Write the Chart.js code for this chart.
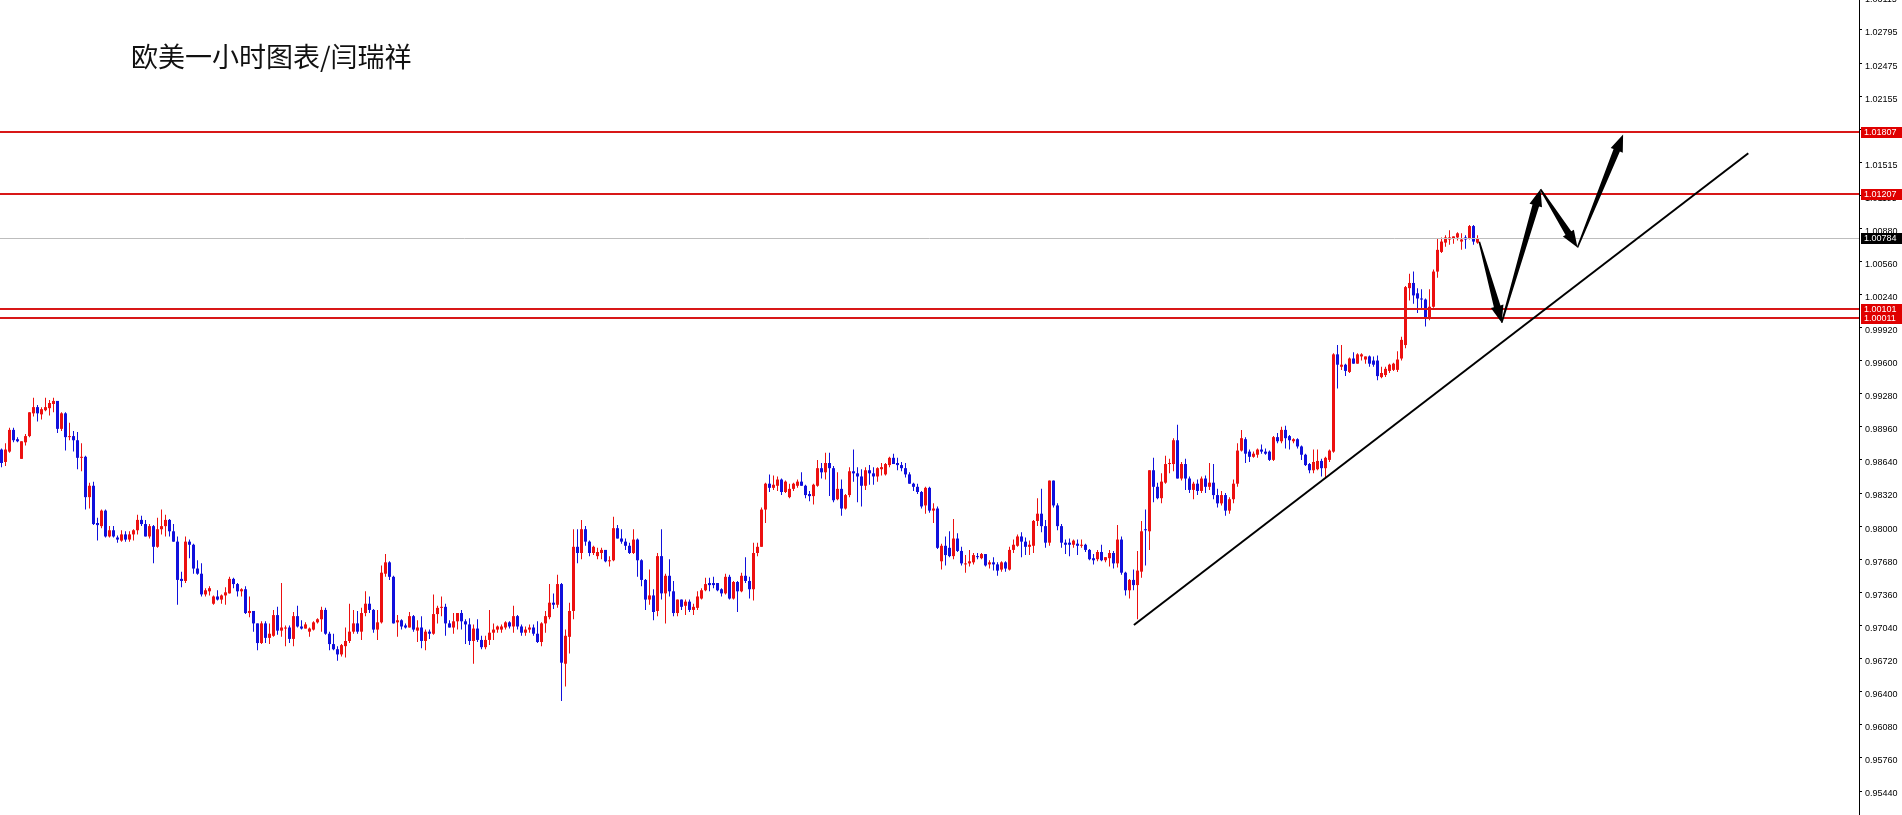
<!DOCTYPE html>
<html>
<head>
<meta charset="utf-8">
<script src="https://cdn.jsdelivr.net/npm/chart.js@4.4.0/dist/chart.umd.min.js"></script>
<style>
  html, body { margin: 0; padding: 0; background: #fff; overflow: hidden; }
  #wrap { width: 1902px; height: 815px; position: relative; }
</style>
</head>
<body>
<div id="wrap"><canvas id="myChart"></canvas></div>
<script>
const chartTitle = "欧美一小时图表/闫瑞祥";

const opens = [
  0.9874,0.9862,0.9872,0.9893,0.9884,0.9865,0.9881,0.9887,0.9909,0.9915,
  0.9908,0.9912,0.9914,0.9918,0.9921,0.9894,0.9909,0.9886,0.9887,0.9883,
  0.9866,0.9867,0.9828,0.9839,0.9803,0.9800,0.9815,0.9790,0.9796,0.9789,
  0.9786,0.9792,0.9787,0.9792,0.9796,0.9806,0.9802,0.9790,0.9800,0.9780,
  0.9797,0.9800,0.9806,0.9795,0.9785,0.9749,0.9747,0.9785,0.9782,0.9759,
  0.9754,0.9734,0.9737,0.9725,0.9732,0.9729,0.9733,0.9735,0.9749,0.9744,
  0.9737,0.9739,0.9716,0.9718,0.9706,0.9687,0.9706,0.9692,0.9694,0.9714,
  0.9699,0.9701,0.9702,0.9691,0.9713,0.9703,0.9701,0.9698,0.9700,0.9707,
  0.9710,0.9719,0.9696,0.9686,0.9681,0.9676,0.9684,0.9689,0.9698,0.9706,
  0.9698,0.9716,0.9725,0.9719,0.9700,0.9707,0.9754,0.9765,0.9751,0.9707,
  0.9709,0.9704,0.9702,0.9713,0.9699,0.9702,0.9689,0.9698,0.9696,0.9715,
  0.9721,0.9722,0.9706,0.9702,0.9708,0.9716,0.9708,0.9705,0.9689,0.9701,
  0.9690,0.9683,0.9690,0.9697,0.9700,0.9700,0.9702,0.9707,0.9703,0.9713,
  0.9703,0.9697,0.9700,0.9702,0.9696,0.9688,0.9706,0.9712,0.9726,0.9724,
  0.9744,0.9667,0.9693,0.9718,0.9780,0.9774,0.9797,0.9785,0.9774,0.9771,
  0.9774,0.9777,0.9766,0.9767,0.9798,0.9788,0.9785,0.9781,0.9774,0.9787,
  0.9767,0.9748,0.9729,0.9733,0.9718,0.9771,0.9735,0.9752,0.9737,0.9716,
  0.9729,0.9723,0.9727,0.9719,0.9721,0.9730,0.9738,0.9745,0.9745,0.9745,
  0.9739,0.9735,0.9751,0.9730,0.9746,0.9737,0.9752,0.9747,0.9739,0.9774,
  0.9780,0.9816,0.9841,0.9837,0.9839,0.9845,0.9833,0.9828,0.9836,0.9839,
  0.9843,0.9839,0.9831,0.9829,0.9839,0.9856,0.9852,0.9861,0.9856,0.9826,
  0.9836,0.9817,0.9830,0.9853,0.9851,0.9848,0.9839,0.9854,0.9851,0.9848,
  0.9855,0.9850,0.9859,0.9866,0.9861,0.9859,0.9856,0.9850,0.9841,0.9838,
  0.9833,0.9820,0.9837,0.9815,0.9817,0.9766,0.9781,0.9779,0.9771,0.9788,
  0.9776,0.9763,0.9764,0.9765,0.9771,0.9769,0.9773,0.9763,0.9765,0.9763,
  0.9758,0.9765,0.9758,0.9777,0.9781,0.9790,0.9785,0.9780,0.9781,0.9805,
  0.9812,0.9800,0.9784,0.9844,0.9820,0.9800,0.9784,0.9784,0.9782,0.9783,
  0.9781,0.9782,0.9777,0.9769,0.9768,0.9775,0.9767,0.9769,0.9774,0.9764,
  0.9787,0.9755,0.9738,0.9748,0.9743,0.9756,0.9797,0.9795,0.9854,0.9838,
  0.9827,0.9842,0.9860,0.9860,0.9883,0.9846,0.9860,0.9846,0.9835,0.9841,
  0.9834,0.9846,0.9838,0.9842,0.9830,0.9822,0.9830,0.9815,0.9826,0.9841,
  0.9873,0.9884,0.9872,0.9867,0.9869,0.9874,0.9872,0.9872,0.9864,0.9886,
  0.9882,0.9893,0.9887,0.9882,0.9884,0.9877,0.9869,0.9860,0.9854,0.9855,
  0.9863,0.9856,0.9864,0.9872,0.9966,0.9954,0.9956,0.9949,0.9962,0.9957,
  0.9964,0.9961,0.9964,0.9960,0.9960,0.9944,0.9946,0.9950,0.9951,0.9951,
  0.9962,0.9975,1.0030,1.0035,1.0025,1.0020,1.0019,1.0001,1.0012,1.0046,
  1.0065,1.0074,1.0077,1.0078,1.0079,1.0075,1.0079,1.0078,1.0090,1.0074
];

const highs = [
  0.9875,0.9880,0.9895,0.9895,0.9886,0.9882,0.9889,0.9910,0.9924,0.9917,
  0.9915,0.9924,0.9922,0.9924,0.9921,0.9910,0.9910,0.9900,0.9892,0.9891,
  0.9880,0.9868,0.9842,0.9843,0.9808,0.9816,0.9816,0.9800,0.9800,0.9791,
  0.9796,0.9795,0.9795,0.9797,0.9811,0.9810,0.9806,0.9802,0.9801,0.9808,
  0.9816,0.9811,0.9807,0.9802,0.9790,0.9756,0.9790,0.9787,0.9783,0.9767,
  0.9764,0.9740,0.9742,0.9733,0.9738,0.9734,0.9741,0.9751,0.9750,0.9745,
  0.9740,0.9742,0.9732,0.9718,0.9706,0.9708,0.9708,0.9706,0.9719,0.9722,
  0.9745,0.9704,0.9704,0.9717,0.9723,0.9709,0.9707,0.9702,0.9708,0.9711,
  0.9722,0.9721,0.9698,0.9696,0.9684,0.9686,0.9702,0.9725,0.9719,0.9718,
  0.9721,0.9737,0.9732,0.9720,0.9719,0.9762,0.9773,0.9766,0.9752,0.9714,
  0.9710,0.9706,0.9717,0.9714,0.9709,0.9713,0.9700,0.9700,0.9734,0.9723,
  0.9732,0.9725,0.9709,0.9716,0.9716,0.9719,0.9710,0.9711,0.9705,0.9710,
  0.9694,0.9694,0.9719,0.9706,0.9704,0.9705,0.9708,0.9708,0.9723,0.9714,
  0.9705,0.9703,0.9705,0.9705,0.9708,0.9707,0.9718,0.9744,0.9735,0.9753,
  0.9745,0.9700,0.9726,0.9797,0.9797,0.9806,0.9800,0.9786,0.9781,0.9779,
  0.9779,0.9777,0.9771,0.9809,0.9801,0.9797,0.9788,0.9784,0.9797,0.9788,
  0.9768,0.9749,0.9758,0.9739,0.9774,0.9797,0.9754,0.9768,0.9747,0.9729,
  0.9729,0.9729,0.9729,0.9725,0.9737,0.9740,0.9750,0.9750,0.9751,0.9745,
  0.9740,0.9754,0.9753,0.9747,0.9747,0.9755,0.9770,0.9751,0.9784,0.9784,
  0.9818,0.9842,0.9850,0.9849,0.9848,0.9846,0.9844,0.9841,0.9842,0.9845,
  0.9852,0.9840,0.9834,0.9841,0.9864,0.9861,0.9871,0.9871,0.9858,0.9852,
  0.9845,0.9831,0.9857,0.9874,0.9857,0.9855,0.9857,0.9859,0.9857,0.9857,
  0.9861,0.9861,0.9867,0.9870,0.9866,0.9862,0.9861,0.9852,0.9842,0.9841,
  0.9834,0.9838,0.9838,0.9822,0.9819,0.9783,0.9790,0.9795,0.9807,0.9793,
  0.9780,0.9772,0.9777,0.9774,0.9774,0.9774,0.9773,0.9767,0.9770,0.9765,
  0.9766,0.9766,0.9780,0.9787,0.9792,0.9794,0.9789,0.9786,0.9806,0.9827,
  0.9836,0.9806,0.9844,0.9844,0.9822,0.9802,0.9787,0.9788,0.9787,0.9787,
  0.9787,0.9783,0.9778,0.9773,0.9777,0.9782,0.9770,0.9777,0.9776,0.9801,
  0.9790,0.9756,0.9749,0.9758,0.9776,0.9805,0.9816,0.9854,0.9866,0.9842,
  0.9851,0.9868,0.9865,0.9885,0.9898,0.9862,0.9865,0.9848,0.9843,0.9845,
  0.9848,0.9849,0.9861,0.9860,0.9836,0.9834,0.9832,0.9828,0.9845,0.9880,
  0.9893,0.9886,0.9874,0.9872,0.9875,0.9879,0.9875,0.9873,0.9887,0.9890,
  0.9896,0.9897,0.9888,0.9885,0.9885,0.9878,0.9870,0.9861,0.9874,0.9874,
  0.9865,0.9867,0.9874,0.9967,0.9975,0.9975,0.9957,0.9963,0.9968,0.9967,
  0.9967,0.9964,0.9965,0.9964,0.9965,0.9954,0.9954,0.9957,0.9958,0.9969,
  0.9983,1.0032,1.0044,1.0046,1.0030,1.0029,1.0020,1.0029,1.0048,1.0078,
  1.0079,1.0081,1.0086,1.0080,1.0084,1.0083,1.0081,1.0091,1.0091,1.0081
];

const lows = [
  0.9857,0.9858,0.9871,0.9881,0.9881,0.9865,0.9878,0.9886,0.9906,0.9901,
  0.9903,0.9911,0.9907,0.9910,0.9890,0.9892,0.9873,0.9883,0.9872,0.9855,
  0.9853,0.9816,0.9817,0.9801,0.9786,0.9798,0.9789,0.9789,0.9789,0.9784,
  0.9785,0.9785,0.9785,0.9786,0.9792,0.9800,0.9790,0.9788,0.9764,0.9779,
  0.9792,0.9790,0.9790,0.9785,0.9724,0.9741,0.9745,0.9769,0.9754,0.9753,
  0.9732,0.9732,0.9733,0.9724,0.9728,0.9725,0.9724,0.9735,0.9740,0.9732,
  0.9732,0.9715,0.9712,0.9698,0.9680,0.9686,0.9687,0.9686,0.9693,0.9695,
  0.9693,0.9684,0.9687,0.9684,0.9702,0.9700,0.9701,0.9693,0.9699,0.9706,
  0.9698,0.9695,0.9680,0.9680,0.9670,0.9674,0.9673,0.9687,0.9696,0.9696,
  0.9690,0.9713,0.9716,0.9697,0.9690,0.9706,0.9751,0.9748,0.9706,0.9693,
  0.9700,0.9701,0.9702,0.9698,0.9688,0.9682,0.9680,0.9691,0.9695,0.9706,
  0.9713,0.9694,0.9702,0.9696,0.9700,0.9700,0.9686,0.9685,0.9667,0.9688,
  0.9681,0.9681,0.9685,0.9690,0.9697,0.9697,0.9700,0.9701,0.9697,0.9700,
  0.9694,0.9694,0.9697,0.9694,0.9687,0.9684,0.9697,0.9710,0.9720,0.9721,
  0.9631,0.9645,0.9677,0.9710,0.9764,0.9768,0.9781,0.9771,0.9772,0.9768,
  0.9768,0.9765,0.9761,0.9766,0.9788,0.9783,0.9777,0.9773,0.9773,0.9751,
  0.9742,0.9719,0.9724,0.9709,0.9713,0.9729,0.9706,0.9732,0.9713,0.9713,
  0.9719,0.9714,0.9717,0.9714,0.9719,0.9729,0.9737,0.9737,0.9740,0.9737,
  0.9732,0.9734,0.9729,0.9729,0.9717,0.9736,0.9745,0.9730,0.9728,0.9771,
  0.9780,0.9803,0.9833,0.9835,0.9834,0.9830,0.9832,0.9827,0.9834,0.9837,
  0.9839,0.9827,0.9824,0.9821,0.9838,0.9846,0.9845,0.9829,0.9823,0.9825,
  0.9810,0.9816,0.9828,0.9843,0.9823,0.9819,0.9835,0.9840,0.9840,0.9843,
  0.9849,0.9849,0.9857,0.9860,0.9854,0.9853,0.9847,0.9841,0.9834,0.9831,
  0.9817,0.9812,0.9813,0.9803,0.9778,0.9758,0.9762,0.9770,0.9768,0.9775,
  0.9762,0.9755,0.9761,0.9763,0.9768,0.9768,0.9761,0.9759,0.9757,0.9752,
  0.9756,0.9756,0.9757,0.9774,0.9780,0.9770,0.9772,0.9772,0.9774,0.9800,
  0.9794,0.9779,0.9781,0.9818,0.9796,0.9779,0.9773,0.9771,0.9779,0.9772,
  0.9779,0.9775,0.9767,0.9763,0.9766,0.9766,0.9765,0.9761,0.9759,0.9760,
  0.9753,0.9733,0.9730,0.9738,0.9710,0.9750,0.9762,0.9777,0.9823,0.9826,
  0.9822,0.9841,0.9851,0.9853,0.9846,0.9844,0.9835,0.9832,0.9826,0.9830,
  0.9832,0.9832,0.9835,0.9826,0.9818,0.9820,0.9810,0.9812,0.9822,0.9838,
  0.9872,0.9861,0.9862,0.9866,0.9866,0.9870,0.9869,0.9863,0.9863,0.9880,
  0.9880,0.9875,0.9874,0.9880,0.9875,0.9864,0.9858,0.9851,0.9851,0.9854,
  0.9848,0.9846,0.9862,0.9871,0.9933,0.9951,0.9945,0.9948,0.9957,0.9957,
  0.9960,0.9957,0.9954,0.9954,0.9941,0.9943,0.9944,0.9948,0.9950,0.9949,
  0.9960,0.9972,1.0018,1.0015,1.0006,1.0010,0.9993,0.9999,1.0011,1.0040,
  1.0064,1.0070,1.0072,1.0073,1.0076,1.0067,1.0068,1.0077,1.0072,1.0073
];

const closes = [
  0.9861,0.9874,0.9893,0.9883,0.9882,0.9882,0.9887,0.9910,0.9915,0.9909,
  0.9913,0.9915,0.9919,0.9921,0.9894,0.9909,0.9886,0.9887,0.9883,0.9866,
  0.9867,0.9828,0.9839,0.9802,0.9801,0.9815,0.9790,0.9796,0.9790,0.9787,
  0.9792,0.9787,0.9792,0.9796,0.9806,0.9802,0.9790,0.9800,0.9780,0.9797,
  0.9800,0.9806,0.9795,0.9785,0.9748,0.9747,0.9785,0.9782,0.9759,0.9754,
  0.9734,0.9738,0.9740,0.9732,0.9729,0.9733,0.9736,0.9749,0.9744,0.9737,
  0.9739,0.9716,0.9718,0.9706,0.9687,0.9706,0.9692,0.9696,0.9714,0.9699,
  0.9702,0.9702,0.9691,0.9713,0.9703,0.9701,0.9705,0.9701,0.9707,0.9710,
  0.9719,0.9696,0.9686,0.9681,0.9676,0.9685,0.9689,0.9698,0.9706,0.9698,
  0.9716,0.9725,0.9719,0.9700,0.9707,0.9755,0.9765,0.9751,0.9706,0.9709,
  0.9703,0.9702,0.9713,0.9700,0.9702,0.9689,0.9698,0.9696,0.9715,0.9721,
  0.9722,0.9706,0.9702,0.9708,0.9716,0.9708,0.9705,0.9689,0.9701,0.9690,
  0.9683,0.9690,0.9697,0.9700,0.9703,0.9703,0.9707,0.9703,0.9713,0.9703,
  0.9697,0.9700,0.9702,0.9696,0.9688,0.9706,0.9713,0.9726,0.9724,0.9744,
  0.9668,0.9694,0.9718,0.9780,0.9774,0.9797,0.9785,0.9774,0.9780,0.9775,
  0.9777,0.9766,0.9767,0.9798,0.9788,0.9785,0.9781,0.9774,0.9787,0.9767,
  0.9748,0.9729,0.9733,0.9717,0.9771,0.9735,0.9752,0.9737,0.9716,0.9729,
  0.9722,0.9727,0.9719,0.9722,0.9732,0.9738,0.9744,0.9743,0.9743,0.9738,
  0.9735,0.9751,0.9730,0.9746,0.9737,0.9752,0.9747,0.9739,0.9774,0.9780,
  0.9816,0.9841,0.9837,0.9840,0.9845,0.9833,0.9843,0.9836,0.9841,0.9843,
  0.9839,0.9830,0.9829,0.9840,0.9856,0.9852,0.9861,0.9856,0.9825,0.9836,
  0.9817,0.9830,0.9853,0.9851,0.9848,0.9839,0.9854,0.9851,0.9848,0.9856,
  0.9857,0.9860,0.9866,0.9860,0.9859,0.9856,0.9850,0.9841,0.9838,0.9833,
  0.9819,0.9837,0.9815,0.9817,0.9779,0.9781,0.9772,0.9771,0.9788,0.9776,
  0.9764,0.9764,0.9766,0.9772,0.9770,0.9773,0.9762,0.9765,0.9763,0.9757,
  0.9765,0.9759,0.9777,0.9782,0.9790,0.9785,0.9780,0.9782,0.9805,0.9812,
  0.9800,0.9784,0.9844,0.9820,0.9800,0.9784,0.9782,0.9782,0.9786,0.9781,
  0.9782,0.9777,0.9768,0.9767,0.9775,0.9767,0.9770,0.9774,0.9764,0.9787,
  0.9755,0.9738,0.9748,0.9743,0.9757,0.9795,0.9796,0.9854,0.9838,0.9827,
  0.9843,0.9860,0.9861,0.9883,0.9846,0.9860,0.9846,0.9835,0.9841,0.9834,
  0.9846,0.9838,0.9842,0.9830,0.9822,0.9830,0.9815,0.9826,0.9841,0.9873,
  0.9885,0.9870,0.9867,0.9870,0.9874,0.9872,0.9870,0.9864,0.9886,0.9882,
  0.9893,0.9885,0.9883,0.9884,0.9877,0.9869,0.9859,0.9854,0.9862,0.9863,
  0.9856,0.9866,0.9873,0.9966,0.9956,0.9956,0.9950,0.9962,0.9957,0.9966,
  0.9966,0.9964,0.9957,0.9956,0.9945,0.9948,0.9952,0.9956,0.9957,0.9961,
  0.9980,1.0031,1.0035,1.0023,1.0020,1.0019,1.0001,1.0012,1.0046,1.0067,
  1.0075,1.0079,1.0079,1.0080,1.0083,1.0077,1.0077,1.0090,1.0075,1.0078
];

// price axis tick labels as printed on the chart
const tickValues = [
  1.03115, 1.02795, 1.02475, 1.02155, 1.01835, 1.01515, 1.01195, 1.00880,
  1.00560, 1.00240, 0.99920, 0.99600, 0.99280, 0.98960, 0.98640, 0.98320,
  0.98000, 0.97680, 0.97360, 0.97040, 0.96720, 0.96400, 0.96080, 0.95760, 0.95440
];

const levelValues = [1.01807, 1.01207, 1.00101, 1.00011];
const lastPrice = 1.00784;

// trend line and zigzag arrow path, in (bar index, price)
const trendX = [283.1, 436.7];
const trendY = [0.97044, 1.01603];
const arrowX = [369.45, 375.05, 384.75, 394.0, 405.4];
const arrowY = [1.00749, 0.99966, 1.01256, 1.00693, 1.01784];

const RED = "#ec1010";
const BLUE = "#1010dc";
const LINE_RED = "#d81818";

const idx = opens.map((_, i) => i);
const colors = opens.map((o, i) => (closes[i] >= o ? RED : BLUE));

function drawArrow(ctx, x0, y0, x1, y1) {
  const dx = x1 - x0, dy = y1 - y0;
  const len = Math.hypot(dx, dy);
  const ux = dx / len, uy = dy / len;
  const nx = -uy, ny = ux;
  const headLen = 17, headW = 6.5, w0 = 0.8, w1 = 3.4;
  const bx = x1 - ux * headLen, by = y1 - uy * headLen;
  ctx.beginPath();
  ctx.moveTo(x0 + nx * w0, y0 + ny * w0);
  ctx.lineTo(bx + nx * w1, by + ny * w1);
  ctx.lineTo(bx + nx * headW, by + ny * headW);
  ctx.lineTo(x1, y1);
  ctx.lineTo(bx - nx * headW, by - ny * headW);
  ctx.lineTo(bx - nx * w1, by - ny * w1);
  ctx.lineTo(x0 - nx * w0, y0 - ny * w0);
  ctx.closePath();
  ctx.fill();
}

const overlay = {
  id: "overlay",
  afterDatasetsDraw(chart) {
    const { ctx, chartArea: a, scales: { x, y } } = chart;
    ctx.save();

    // last price line
    ctx.strokeStyle = "#bdbdbd";
    ctx.lineWidth = 1;
    let py = Math.round(y.getPixelForValue(lastPrice)) + 0.5;
    ctx.beginPath();
    ctx.moveTo(a.left, py);
    ctx.lineTo(a.right, py);
    ctx.stroke();

    // support / resistance levels
    ctx.strokeStyle = LINE_RED;
    ctx.lineWidth = 2;
    levelValues.forEach((v) => {
      const ly = Math.round(y.getPixelForValue(v));
      ctx.beginPath();
      ctx.moveTo(a.left, ly);
      ctx.lineTo(a.right, ly);
      ctx.stroke();
    });

    // trend line
    ctx.strokeStyle = "#000";
    ctx.lineWidth = 2;
    ctx.beginPath();
    ctx.moveTo(x.getPixelForValue(trendX[0]), y.getPixelForValue(trendY[0]));
    ctx.lineTo(x.getPixelForValue(trendX[1]), y.getPixelForValue(trendY[1]));
    ctx.stroke();

    // zigzag arrows
    ctx.fillStyle = "#000";
    for (let i = 0; i < arrowX.length - 1; i++) {
      drawArrow(
        ctx,
        x.getPixelForValue(arrowX[i]), y.getPixelForValue(arrowY[i]),
        x.getPixelForValue(arrowX[i + 1]), y.getPixelForValue(arrowY[i + 1])
      );
    }
    ctx.restore();
  },
  afterDraw(chart) {
    const { ctx, chartArea: a, scales: { y } } = chart;
    ctx.save();
    ctx.font = "9px 'Liberation Sans'";
    ctx.textBaseline = "middle";
    ctx.textAlign = "left";
    const box = (v, bg) => {
      const by = Math.round(y.getPixelForValue(v));
      ctx.fillStyle = bg;
      ctx.fillRect(a.right + 2, by - 5, 41, 11);
      ctx.fillStyle = "#fff";
      ctx.fillText(v.toFixed(5), a.right + 5, by + 0.5);
    };
    levelValues.forEach((v) => box(v, "#e00000"));
    box(lastPrice, "#000");

    ctx.font = "27px 'Noto Sans CJK SC'";
    ctx.fillStyle = "#111";
    ctx.fillText(chartTitle, 131, 57);
    ctx.restore();
  },
};

const ctx = document.getElementById("myChart");

// bar width = sample spacing (4px) * categoryPercentage * barPercentage
new Chart(ctx, {
  type: "bar",
  data: {
    datasets: [
      {
        label: "body",
        data: idx.map((i) => ({ x: i, y: [opens[i], closes[i]] })),
        backgroundColor: colors,
        categoryPercentage: 1,
        barPercentage: 0.75,
        minBarLength: 1,
        grouped: false,
        order: 1,
      },
      {
        label: "wick",
        data: idx.map((i) => ({ x: i, y: [lows[i], highs[i]] })),
        backgroundColor: colors,
        categoryPercentage: 1,
        barPercentage: 0.25,
        grouped: false,
        order: 2,
      },
    ],
  },
  options: {
    responsive: true,
    maintainAspectRatio: false,
    animation: false,
    layout: { padding: 0 },
    plugins: {
      legend: { display: false },
      tooltip: { enabled: false },
    },
    scales: {
      x: {
        type: "linear",
        display: false,
        offset: false,
        min: -0.375,
        max: 464.375,
      },
      y: {
        position: "right",
        min: 0.952081,
        max: 1.030847,
        afterBuildTicks: (s) => {
          s.ticks = tickValues.map((v) => ({ value: v }));
        },
        afterFit: (s) => {
          s.width = 43;
          s.paddingTop = 0;
          s.paddingBottom = 0;
        },
        grid: { drawOnChartArea: false, drawTicks: true, tickLength: 3, color: "#000" },
        border: { display: true, color: "#000", width: 1 },
        ticks: {
          padding: 3,
          labelOffset: 3,
          color: "#000",
          autoSkip: false,
          font: { family: "Liberation Sans", size: 9 },
          callback: (v) => Number(v).toFixed(5),
        },
      },
    },
  },
  plugins: [overlay],
});
</script>
</body>
</html>
